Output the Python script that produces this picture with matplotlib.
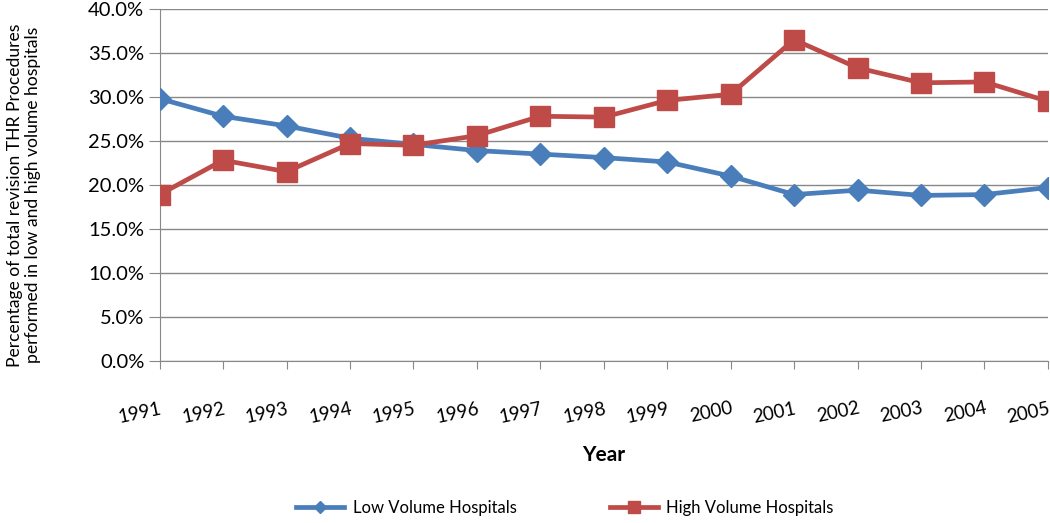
import matplotlib
matplotlib.use("Agg")
import matplotlib.pyplot as plt
from matplotlib.ticker import FuncFormatter

years = list(range(1991, 2006))
low_volume = [29.8, 27.8, 26.7, 25.3, 24.6, 23.9, 23.5, 23.1, 22.6, 21.0, 18.9, 19.4, 18.8, 18.9, 19.7]
high_volume = [18.9, 22.8, 21.5, 24.7, 24.5, 25.6, 27.8, 27.7, 29.6, 30.3, 36.5, 33.3, 31.6, 31.7, 29.5]

plt.rcParams["font.family"] = ["Lato", "DejaVu Sans"]

fig = plt.figure(figsize=(10.5, 5.23), dpi=100)
ax = fig.add_axes([0.152, 0.31, 0.846, 0.673])

ax.plot(years, low_volume, color="#4A7EBB", lw=3.4, marker="D", ms=11,
        label="Low Volume Hospitals", zorder=3)
ax.plot(years, high_volume, color="#BE4B48", lw=3.4, marker="s", ms=14,
        label="High Volume Hospitals", zorder=3)

ax.set_xlim(1991, 2005)
ax.set_ylim(0, 40)
ax.set_yticks(range(0, 41, 5))
ax.yaxis.set_major_formatter(FuncFormatter(lambda v, _: f"{v:.1f}%"))
ax.set_xticks(years)
ax.set_xticklabels([str(y) for y in years], rotation=12, ha="right",
                   rotation_mode="anchor", fontsize=13.5)
ax.tick_params(axis="x", length=6, color="#888888", pad=22)
ax.tick_params(axis="y", length=8, color="#888888", labelsize=14.5, pad=3)
ax.grid(axis="y", color="#888888", lw=1)
ax.set_axisbelow(True)
for side in ("top", "right"):
    ax.spines[side].set_visible(False)
for side in ("left", "bottom"):
    ax.spines[side].set_color("#888888")

ax.set_xlabel("Year", fontsize=15, fontweight="bold", labelpad=14)
fig.text(24 / 1050, 1 - 195 / 523,
         "Percentage of total revision THR Procedures\nperformed in low and high volume hospitals",
         rotation=90, ha="center", va="center", fontsize=12.6, linespacing=1.15)

fig.legend(loc="lower center", bbox_to_anchor=(0.538, -0.015), ncol=2,
           frameon=False, fontsize=12, columnspacing=5.6, handlelength=2.9,
           handletextpad=0.5, markerscale=0.6)

fig.savefig("out.png", dpi=100)
